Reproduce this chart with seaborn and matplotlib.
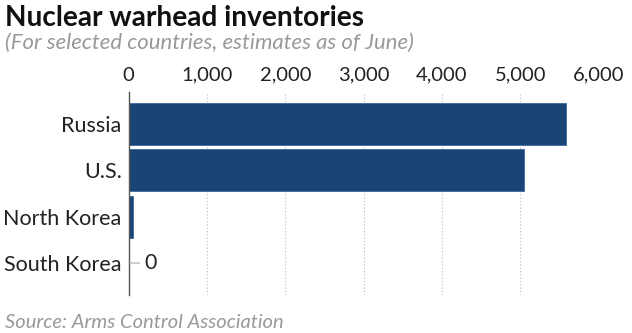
import matplotlib
matplotlib.use("Agg")
import matplotlib.pyplot as plt
import seaborn as sns
import pandas as pd
from matplotlib.ticker import FuncFormatter

countries = ["Russia", "U.S.", "North Korea", "South Korea"]
warheads = [5580, 5044, 50, 0]
xticks = [0, 1000, 2000, 3000, 4000, 5000, 6000]

sns.set_style("white")
plt.rcParams['font.family'] = ['Lato', 'DejaVu Sans']

df = pd.DataFrame({"country": countries, "warheads": warheads})

fig = plt.figure(figsize=(6.32, 3.33), dpi=100)
ax = fig.add_axes([0.2036, 0.114, 0.7435, 0.610])

sns.barplot(data=df, x="warheads", y="country", orient="h", color="#1b4476",
            saturation=1, width=0.91, edgecolor="#3a6a9e", linewidth=0.6, ax=ax)

ax.set_xlim(0, 6000)
ax.set_ylim(3.69, -0.69)
ax.set_xticks(xticks)
ax.xaxis.set_major_formatter(FuncFormatter(lambda v, p: f"{int(v):,}"))
ax.xaxis.tick_top()
ax.tick_params(axis="x", length=0, labelsize=14.5, pad=6, colors="#222222")
ax.tick_params(axis="y", length=0, labelsize=15.5, pad=5, colors="#222222")
ax.set_xlabel("")
ax.set_ylabel("")
ax.set_axisbelow(True)
for xv in xticks[1:]:
    ax.axvline(xv, color="#bbbbbb", linestyle=(0, (1, 2)), linewidth=0.8, zorder=0)
for s in ["top", "right", "bottom"]:
    ax.spines[s].set_visible(False)
ax.spines["left"].set_color("#555555")
ax.spines["left"].set_linewidth(1.0)

# zero label for South Korea
ax.annotate("", xy=(0, 3), xytext=(8, 0), textcoords="offset points",
            arrowprops=dict(arrowstyle="-", color="#aaaaaa", lw=0.8, shrinkA=0, shrinkB=0))
ax.annotate("0", xy=(0, 3), xytext=(11, 0), textcoords="offset points",
            va="center", ha="left", fontsize=15.5, color="#222222")

fig.text(0.008, 0.945, "Nuclear warhead inventories", fontsize=20.2, fontweight="bold",
         color="#111111", va="center")
fig.text(0.008, 0.87, "(For selected countries, estimates as of June)", fontsize=15.9,
         style="italic", color="#999999", va="center")
fig.text(0.008, 0.033, "Source: Arms Control Association", fontsize=14.5,
         style="italic", color="#999999", va="center")

fig.savefig("out.png", dpi=100)
